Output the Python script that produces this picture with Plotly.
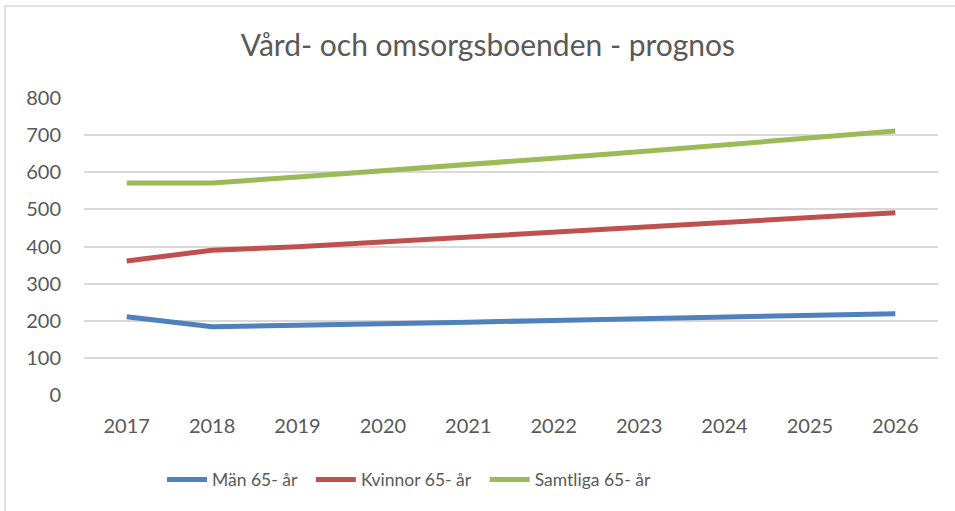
import plotly.graph_objects as go

years = ["2017", "2018", "2019", "2020", "2021", "2022", "2023", "2024", "2025", "2026"]
man = [211, 184, 188, 191, 196, 201, 205, 209, 214, 219]
kvinnor = [361, 390, 399, 412, 424, 437, 450, 463, 477, 491]
samtliga = [571, 571, 587, 603, 620, 638, 655, 673, 692, 711]

series_names = ["Män 65- år", "Kvinnor 65- år", "Samtliga 65- år"]
colors = ["#4F81BD", "#C0504D", "#9BBB59"]

pad = "\u00a0\u00a0"
fig = go.Figure()
for i, (name, vals, col) in enumerate(zip(series_names, [man, kvinnor, samtliga], colors)):
    label = name + (pad if i < len(series_names) - 1 else "")
    fig.add_trace(go.Scatter(x=years, y=vals, name=label, mode="lines",
                             line=dict(color=col, width=5)))

font_family = "Lato, Open Sans, sans-serif"
fig.update_layout(
    width=955, height=511,
    margin=dict(l=84, r=17, t=98, b=116, autoexpand=False),
    paper_bgcolor="white", plot_bgcolor="white",
    title=dict(text="Vård- och omsorgsboenden - prognos", x=488 / 955, xanchor="center",
               y=1 - 45 / 511, yanchor="middle",
               font=dict(family=font_family, size=30, color="#595959")),
    font=dict(family=font_family, color="#595959", size=20),
    xaxis=dict(type="category", range=[-0.5, 9.5], showgrid=False, showline=False, ticks="",
               tickfont=dict(size=20, color="#595959"), ticklabelstandoff=17),
    yaxis=dict(range=[0, 800], dtick=100, showgrid=True, gridcolor="#D9D9D9", gridwidth=1.5,
               zeroline=False, showline=False, ticks="", tickfont=dict(size=20, color="#595959"),
               ticklabelstandoff=22),
    legend=dict(orientation="h", x=(162 - 84) / 854, xanchor="left", y=-0.285, yanchor="middle",
                font=dict(size=17.5, color="#595959"), itemwidth=40, traceorder="normal"),
    shapes=[dict(type="rect", xref="paper", yref="paper",
                 x0=(5 - 84) / 854, x1=(962 - 84) / 854,
                 y0=(395 - 520) / 297, y1=(395 - 6) / 297,
                 line=dict(color="#D9D9D9", width=1.5), fillcolor="rgba(0,0,0,0)", layer="below")],
)

fig.write_html("out.html", config={"displayModeBar": False},
               post_script="document.body.style.margin='0';")
